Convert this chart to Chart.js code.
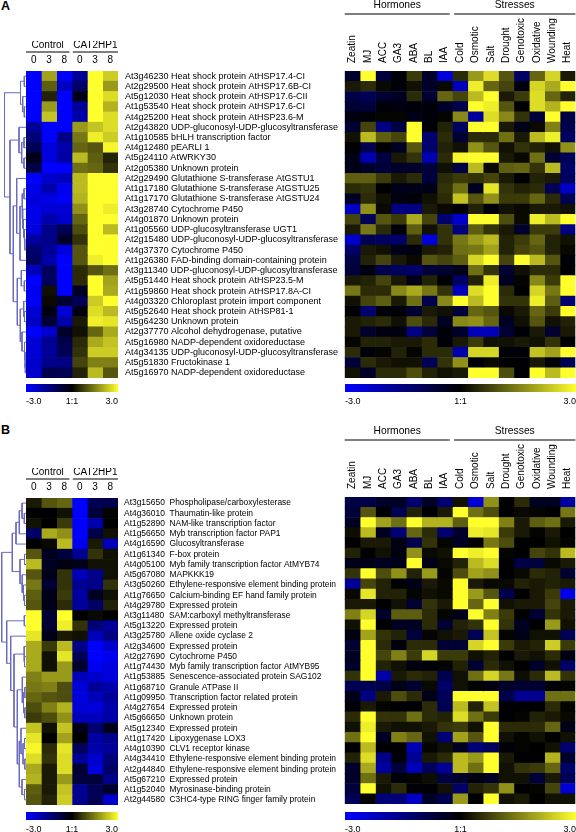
<!DOCTYPE html>
<html>
<head>
<meta charset="utf-8">
<script src="https://cdn.jsdelivr.net/npm/chart.js@4/dist/chart.umd.min.js"></script>
<style>
  html, body { margin: 0; padding: 0; background: #fff; }
  #page { position: relative; width: 576px; height: 832px; overflow: hidden; }
  canvas { position: absolute; }
  .letter { position: absolute; left: 1px; font: bold 12.5px "Liberation Sans", Arial, sans-serif; color: #000; }
</style>
</head>
<body>
<div id="page">
  <div class="letter" style="top:-1px">A</div>
  <div class="letter" style="top:423px">B</div>
</div>
<script>
// column headings
const timePoints = ['0', '3', '8', '0', '3', '8'];
const sampleGroups = ['Control', 'CAT2HP1'];
const atlasColumns = ['Zeatin', 'MJ', 'ACC', 'GA3', 'ABA', 'BL', 'IAA', 'Cold', 'Osmotic', 'Salt', 'Drought', 'Genotoxic', 'Oxidative', 'Wounding', 'Heat'];
const atlasGroups = ['Hormones', 'Stresses'];
const scaleTicks = [-3, 0, 3];
const scaleTickLabels = ['-3.0', '1:1', '3.0'];

// panel A genes
const genesA = [
  'At3g46230 Heat shock protein AtHSP17.4-CI',
  'At2g29500 Heat shock protein AtHSP17.6B-CI',
  'At5g12030 Heat shock protein AtHSP17.6-CII',
  'At1g53540 Heat shock protein AtHSP17.6-CI',
  'At4g25200 Heat shock protein AtHSP23.6-M',
  'At2g43820 UDP-gluconosyl-UDP-glucosyltransferase',
  'At1g10585 bHLH transcription factor',
  'At4g12480 pEARLI 1',
  'At5g24110 AtWRKY30',
  'At2g05380 Unknown protein',
  'At2g29490 Glutathione S-transferase AtGSTU1',
  'At1g17180 Glutathione S-transferase AtGSTU25',
  'At1g17170 Glutathione S-transferase AtGSTU24',
  'At3g28740 Cytochrome P450',
  'At4g01870 Unknown protein',
  'At1g05560 UDP-glucosyltransferase UGT1',
  'At2g15480 UDP-gluconosyl-UDP-glucosyltransferase',
  'At4g37370 Cytochrome P450',
  'At1g26380 FAD-binding domain-containing protein',
  'At3g11340 UDP-gluconosyl-UDP-glucosyltransferase',
  'At5g51440 Heat shock protein AtHSP23.5-M',
  'At1g59860 Heat shock protein AtHSP17.8A-CI',
  'At4g03320 Chloroplast protein import component',
  'At5g52640 Heat shock protein AtHSP81-1',
  'At5g64230 Unknown protein',
  'At2g37770 Alcohol dehydrogenase, putative',
  'At5g16980 NADP-dependent oxidoreductase',
  'At4g34135 UDP-gluconosyl-UDP-glucosyltransferase',
  'At5g51830 Fructokinase 1',
  'At5g16970 NADP-dependent oxidoreductase'
];

// panel B genes
const genesB = [
  'At3g15650  Phospholipase/carboxylesterase',
  'At4g36010  Thaumatin-like protein',
  'At1g52890  NAM-like transcription factor',
  'At1g56650  Myb transcription factor PAP1',
  'At4g16590  Glucosyltransferase',
  'At1g61340  F-box protein',
  'At4g05100  Myb family transcription factor AtMYB74',
  'At5g67080  MAPKKK19',
  'At3g50260  Ethylene-responsive element binding protein',
  'At1g76650  Calcium-binding EF hand family protein',
  'At4g29780  Expressed protein',
  'At3g11480  SAM:carboxyl methyltransferase',
  'At5g13220  Expressed protein',
  'At3g25780  Allene oxide cyclase 2',
  'At2g34600  Expressed protein',
  'At2g27690  Cytochrome P450',
  'At1g74430  Myb family transcription factor AtMYB95',
  'At1g53885  Senescence-associated protein SAG102',
  'At1g68710  Granule ATPase II',
  'At1g09950  Transcription factor related protein',
  'At4g27654  Expressed protein',
  'At5g66650  Unknown protein',
  'At5g12340  Expressed protein',
  'At1g17420  Lipoxygenase LOX3',
  'At4g10390  CLV1 receptor kinase',
  'At4g34410  Ethylene-responsive element binding protein',
  'At2g44840  Ethylene-responsive element binding protein',
  'At5g67210  Expressed protein',
  'At1g52040  Myrosinase-binding protein',
  'At2g44580  C3HC4-type RING finger family protein'
];

const timeCourseA = [
  [-3, 1.9, -3, -1.8, 3, 2.4],
  [-3, 1.1, -2.3, -1.2, 3, 1.8],
  [-3, 0.4, -3, -0.3, 3, 2.6],
  [-3, 1.8, -3, -1.8, 3, 2.1],
  [-3, 2.3, -3, -2, 3, 2.6],
  [-1.8, -3, -3, 1.8, 2.3, 2.6],
  [-1.4, -3, -1.6, 1.4, 2.8, 2.4],
  [-1, -2.6, -2, 1.2, 1, 2.9],
  [-0.3, -2.6, -1.9, 2.2, 1.1, 0.4],
  [-0.8, -3, -3, 1.3, 1.2, 0.6],
  [-3, -2.4, -2.2, 2.2, 3, 3],
  [-2.7, -2, -2.8, 2.2, 3, 3],
  [-2.6, -2.7, -2.9, 2.1, 3, 3],
  [-2.7, -2.5, -2.5, 1.7, 3, 2.8],
  [-2.7, -2, -2.4, 1.2, 3, 3],
  [-2.6, -1.6, -1, 0.9, 3, 2.2],
  [-1.9, -1.6, -0.5, 0.6, 3, 3],
  [-1.3, -1.8, -2.6, 1, 3, 3],
  [-1.1, -2, -3, 1, 2.8, 3],
  [-2.2, -1.1, -3, 0.5, 1, 1.3],
  [-3, -1.1, -3, 0.5, 3, 1.9],
  [-2.8, 0.2, -3, -0.4, 3, 2],
  [-2.9, 0.1, -0.6, -1, 2.4, 3],
  [-2.5, -0.2, -2.5, -0.2, 2.6, 2.2],
  [-2.3, -0.6, -2, 0.3, 2.8, 2.7],
  [-3, -2.4, -0.5, 0.2, 1.2, 2],
  [-2.5, -1.7, -0.9, 0.5, 2, 2.3],
  [-2.5, -1.8, -1, 0.6, 2.4, 2.4],
  [-2.4, -1.6, -1.5, 0.8, 1.5, 1.5],
  [-2.4, -0.9, -1, 0.4, 2.2, 1]
];

const atlasA = [
  [-0.5, 3, -0.7, -0.1, 0.7, -0.5, -2.6, 0.5, 1.8, 2.6, 1, -1.2, 1.2, 2.5, 0.3],
  [0.3, 0.5, 0.1, -0.1, 0.2, -0.5, 0.1, -2.2, 2.8, 1.2, 0.8, -0.2, 2.5, 2, 3],
  [-0.8, -1, -0.6, -0.4, 0.5, -0.6, 1.2, 0.8, 2.2, 3, 0.3, 0.7, 2.6, 1.2, 0.4],
  [-0.6, -0.7, -0.1, -0.2, -0.1, -0.1, -0.5, -0.9, 3, 2.8, 1, 0, 2.6, 2.1, 3],
  [-0.2, -0.1, 0.05, 0.05, -0.3, -0.1, 0.05, 1.6, -1.8, 2.6, 1.6, 0.6, -0.7, 3, -0.8],
  [-0.6, 0.8, -1.5, -0.8, 3, -0.1, 0.4, -1.1, 3, 3, 0.3, -0.3, 0.1, 1.5, -0.9],
  [0.2, 2.2, 1.1, 0.8, 3, -1.3, 0.5, -0.6, 0.5, 0.5, 1.3, 0.3, 2.2, 2.8, -1.1],
  [0, -0.9, 0, -0.4, 1, -1.3, 0.4, 0.2, 1.7, 1, 0.2, 0.6, 0.4, 0.2, 1.7],
  [-0.3, -2.1, -0.8, 0.3, 0.6, -2.1, 0.5, 2.9, 3, 3, 0.3, 0.1, 1.3, -0.6, -1],
  [-0.3, -0.5, -0.7, -0.5, -0.5, -0.7, 0.2, -0.8, 2.2, 0.1, 1.1, 1.2, 0.6, 2.2, -1.2],
  [1.1, 1.1, 0.7, 0.3, 0.5, -0.7, 0.5, 0.7, 0.6, 0.8, 0.3, -0.05, 0.4, 0.3, -1.1],
  [0.5, 0.6, 0, -0.3, -0.3, -0.3, 0.6, 1.3, -0.4, 2.7, 0.6, 0.4, 0.5, -1, -2.3],
  [-0.4, 0.5, 0.2, -0.2, -0.1, 0.2, 0.5, 2.3, 1, 1.7, 0.7, 0.7, 1.2, 0.5, -1],
  [-2.3, 1.7, 0.1, -1.5, -1.5, 0.3, 0.1, -0.1, 0.4, -0.1, 0.2, 0.1, 0.3, 0.3, 0.2],
  [0.8, -1, 1, 0.7, 2, 0.8, -1.3, -2.4, 3, 3, 0.9, 0.1, 2.8, 2.2, 3],
  [0.3, 1.4, 0.5, -0.1, 1.1, 0.2, 0.6, -1.5, 1.1, 0.6, 0.3, -0.5, 0.7, 0.7, -1.5],
  [-2.4, -1, -1.1, -1.2, 0.5, -2.6, 0.6, 1.4, 1.8, 2.2, 0.4, 0.7, 1.2, 0.4, 0.2],
  [-1.2, 0.3, 0.2, -0.3, -0.2, 0.3, 0.4, 1.3, 1.4, 1.9, 0.4, 0.8, 1, 0.4, 0.1],
  [-0.8, 0.4, 0.8, 0.3, 0.1, 1, 0.8, 1.1, 2.5, 3, 0.8, 3, 2.2, 1, -0.1],
  [-0.7, -0.2, -0.9, -1.1, -1.2, -0.7, -0.6, -0.3, 1.3, 0.6, -0.6, 0.2, 0.5, 0.5, 0],
  [0.3, 0.4, 0.8, 0.3, -0.3, 0.4, 0, -1.2, 0.4, 2.8, -0.4, 0.05, 1.6, 0.7, 3],
  [1.4, 0.5, 0.5, 1.6, 2, 1.4, 0.6, -2.2, 2.6, 3, 0.5, 0, 2.5, 1.4, 3],
  [0.2, 0.8, 1.1, 0.3, 1.3, -0.9, 1.6, 3, 2.2, 3, 0.6, 0.6, 2.8, 1.1, -1.3],
  [0, -1.3, -0.1, -0.1, -0.6, 0.3, 0.2, -0.7, 1.2, 1, 0.1, 0.3, 1.2, 0.7, 3],
  [0.3, 0.4, 0.5, 0.2, 0.9, 0.5, -0.4, 1.6, 1.7, 1.2, -0.4, 0.2, 1, 0.2, 0.4],
  [0.3, -0.5, -0.2, -0.2, -1.5, -0.7, -0.1, -0.5, -2.2, -2.2, -0.6, -0.1, 0.3, -0.6, 0.3],
  [0.05, 0.4, 0.4, 0.3, 0.3, 0.5, -0.1, 0.3, 0.7, 0.2, 0.2, 0.3, 0.2, 0.6, -0.05],
  [0.5, -0.1, 0.05, 0.4, 0.05, 0.5, 0.5, -2, 2.5, 2.5, -0.1, -0.1, 2.3, 1.9, 3],
  [-0.7, 0.5, 0.3, 0.2, 0.2, -1, 0.6, 1.7, -0.1, 0.1, 0, -0.05, 0.3, -0.1, -1],
  [0.2, -0.5, 0.5, 0.5, 0.9, 0.4, 0.2, 0.3, 3, 3, 0.9, 0, 3, 2.2, 3]
];

const timeCourseB = [
  [0.3, 1, 1.2, -3, -1, -0.9],
  [0, 0, 0.2, -3, -0.7, 0.05],
  [0.2, 0, 0.7, -3, -2, 0],
  [-1.2, 2, 1.7, -3, -0.8, 0.2],
  [0, 0.1, 2.2, -2.8, 0.3, -2.2],
  [1, -0.4, -0.7, -1.7, 0.6, 0.2],
  [2.2, -0.4, -0.2, -0.3, 0.2, 0.2],
  [1, -0.3, 0.6, -2.2, -1.6, 0.2],
  [1.4, -0.6, 0.6, -1.7, -1.6, 0.6],
  [1.1, -0.3, 0.7, -1.9, -0.4, 0.2],
  [1, -0.3, 0.5, -1.8, -1.2, 0.4],
  [3, -0.6, 3, 0, 0.1, 0],
  [3, -0.6, 2.8, 0.6, -1.4, -1.8],
  [2.7, -0.3, 0.3, 0.2, -2.2, -1.5],
  [2, 0.7, 2.2, -1.6, -3, -2.4],
  [2, 0.2, 2.7, -1, -3, -2.8],
  [2, 0.2, 1.8, -0.5, -2.8, -2.6],
  [1.5, 1.8, 1.8, -2.2, -2.4, -2.6],
  [1.4, 1.5, 0.9, -2.6, -1.8, -2],
  [1.2, 1, 0.9, -2.6, -2.2, -1.8],
  [0.9, 1.5, 2.1, -2.5, -2.6, -2],
  [0.7, 0.9, 1.7, -2.2, -2.2, -2],
  [2.3, 0.2, 2.3, -0.3, -1.3, -0.3],
  [2.7, 0, 1.9, 0, -1.9, -1.6],
  [2.9, 0.5, 2.7, -1.1, -2, -1.8],
  [2.6, 0.6, 2.6, -1.8, -2.4, -1.4],
  [2, 0.3, 2.6, -0.6, -2.6, -1.2],
  [2.1, 0.3, 1.8, -0.7, -0.7, -1.6],
  [1.1, 0.3, 2.3, -1.7, -1, -0.5],
  [1, 0.4, 2.4, -1.7, -1, -2.4]
];

const atlasB = [
  [-0.8, -0.8, -0.5, -0.4, -1.3, -0.4, -1.3, 0.2, -2.5, 1.7, 0, 0.5, -0.4, -0.4, -1.9],
  [-0.7, 1, 0, -1, 0.4, 0, 0.3, 3, 1.3, 0.9, 0, 0.1, 0.05, 0, 1.4],
  [-0.4, 3, 1.9, 1.3, 3, 2.1, 2.1, 1.1, 3, 3, 1.5, 0.3, 1.1, 1.3, 0.3],
  [0.15, 2.2, -0.4, -1.4, 1.2, 0.5, -1.3, -0.5, 2.8, 2.7, 0.7, 0.3, 0.05, 0.3, 0],
  [0, 0.3, 0.3, -0.2, -0.9, 0.6, 0.05, -0.4, 0, 1.4, 0.9, 0, 0, 0.2, 0.05],
  [0.4, 0, 0.2, -0.2, 1.7, 0.1, 0.2, 3, 2.8, 3, 0.05, 0, 0.8, 0.6, 2.2],
  [-0.3, -0.3, -0.4, -0.3, 3, -0.3, 0.1, 0.4, 2.2, 2.6, 0, -0.8, -0.7, 0.1, 0.3],
  [0.6, 3, 0.9, 1.7, 0.4, 1.8, 0.05, 0.9, 1.9, 1.7, 0, 0.1, 0.5, 0.4, -0.6],
  [-1.8, 0.8, 0.4, 0, -0.3, 0.3, 0.1, 3, 0.3, 0.1, 0.1, 0.4, 0.3, 0.4, 0.3],
  [0.1, 2.7, 0.4, 0.4, 0.05, 0.2, 0.1, 3, 1.8, 1, -0.9, 0, 0.3, 0.7, -2.8],
  [0.3, 0.3, 0, 0.2, -0.6, 0.6, 0.3, 3, 1.2, 3, 0.2, 0.3, 0.3, 0.8, 0.3],
  [1.5, 2.5, -0.5, 1.1, 1.1, 0.5, 0.05, -0.3, 3, 1.5, 0.7, 0, -0.6, 0.6, 0.3],
  [0.2, 3, 0, -0.4, -0.4, 0.5, -0.6, 0.4, 0.6, 3, 0.6, -0.4, 0, 1.8, 0.2],
  [-0.2, 1.9, 0.6, 0.4, -0.7, 0.05, 0.2, 0.3, -1, 2.3, 0.05, -0.3, 0.2, 0.2, -1],
  [-0.6, 3, 0.5, -0.2, 0.5, 0.5, -0.6, -0.6, 2.5, 3, 0.7, 0.3, 0.4, 2.4, 0.7],
  [-0.4, 3, 0.8, 1.5, 0.7, 2.5, 0.7, 0.7, 0.2, 0.4, 0, 0.3, 0.2, 0.5, -0.2],
  [-0.5, 3, 0.4, 0.2, -0.2, -0.1, 0.05, 0.4, -0.6, 0.5, 0.2, 0, -0.5, 0.2, -1.2],
  [0.6, 3, -2, 0.3, 0.5, 0.4, -0.9, 0.2, 1.3, 2.5, 1.4, 0.15, 0.5, 2.2, 0.6],
  [-1, -1, -0.8, -0.3, -0.6, 0.1, -1.2, 0.2, 0, -0.2, -0.5, -0.6, -0.6, -0.1, 0.05],
  [-0.3, -1.5, 0.3, 0.9, 0.5, -0.3, -1, 3, 3, 3, -0.9, -1.7, -1.7, 1.3, 1.3],
  [-0.1, 0.3, 0.05, -0.05, -0.05, 0.5, -1, 2.2, 0.4, 2.3, -0.05, -0.05, -0.05, 0.5, 0.05],
  [0.5, 3, 0.6, 0.6, 1.3, 0.5, 0.4, 2.6, 1.3, 0.7, -0.05, 0.05, 0.4, 0.3, 0.1],
  [0.2, 2.8, 0.3, 0.2, 0.2, 0.3, 0.6, 0.7, 0.2, 3, 0.5, 0.5, 0.5, 1.2, -0.3],
  [1.3, 3, -0.4, 1.5, 1.2, 0.2, -1.4, 1.9, 1, 3, 0.2, 0.05, 0.2, 0, 0.2],
  [-0.05, 2.2, -0.05, -0.05, -2.1, 0.05, 0.2, -0.4, -1.4, -1.1, -0.1, 0.05, 0, 0.2, -1.3],
  [0.4, 2.6, -1.6, -0.1, -1.7, 0.3, 0.5, 2.2, 1.8, 3, 0.3, -0.05, -0.05, 2.1, -0.5],
  [-0.5, 2, -1.9, -0.7, -2.2, -1.1, -1.8, 2.2, 1.3, 3, 0.2, 0.6, 0.7, 1.2, -1.2],
  [-0.5, 1.3, 0.3, -0.1, 0.05, 0.15, -0.8, -0.5, -0.2, -0.4, 0.2, 0.2, -0.7, 0.3, -1],
  [-0.7, 3, 0.2, 0.5, -0.05, -0.05, 0.2, -1.2, 0.4, 0.6, 1.7, 0, 0.05, 0.8, -2.5],
  [-1, 0.05, -1.4, -1.4, -2.3, -0.5, -0.9, 1.8, 0, 3, 0.2, 0.3, 0, 0.2, 0.2]
];

// cluster trees: [merge distance, child, child], a number is a row index
const treeA = [21.5,
  [5.5, [1.7, 0, 1], [3.3, 2, [1.7, 3, 4]]],
  [16,
    [7, 5, [4.3, [2, 6, 7], [2, 8, 9]]],
    [12.7,
      [9.3, 10, [6, [4, [2, 11, 12], [3.3, 13, [2.5, 14, [1.8, 15, [1.2, 16, 17]]]]], 18]],
      [8.7,
        [4.7, 19, [1.7, 20, 21]],
        [5.7, [2.3, 22, [1.5, 23, 24]], [4, 25, [1.5, 26, [1, 27, [0.7, 28, 29]]]]]
      ]
    ]
  ]
];
const treeB = [24.3,
  [13.7,
    [10, [6.7, [4, 0, [1.7, 1, 2]], 3], 4],
    [6, [1.5, 5, 6], [3.8, 7, [2.5, 8, [1.5, 9, 10]]]]
  ],
  [19.3,
    [1.7, 11, 12],
    [15.3, 13,
      [12,
        [2, 14, [1.5, 15, 16]],
        [8.7,
          [3.7, 17, [2.5, [1.2, 18, 19], [1.2, 20, 21]]],
          [6.7, [5, 22, [3, [1.5, 23, 24], [1.2, 25, 26]]], [4, 27, [1.5, 28, 29]]]
        ]
      ]
    ]
  ]
];

Chart.defaults.font.family = '"Liberation Sans", Arial, sans-serif';
Chart.defaults.color = '#000';
Chart.defaults.animation = false;
Chart.defaults.responsive = false;
Chart.defaults.plugins.legend.display = false;
Chart.defaults.plugins.tooltip.enabled = false;

const page = document.getElementById('page');

function addCanvas(left, top, width, height) {
  const c = document.createElement('canvas');
  c.width = width;
  c.height = height;
  c.style.left = left + 'px';
  c.style.top = top + 'px';
  c.style.width = width + 'px';
  c.style.height = height + 'px';
  page.appendChild(c);
  return c.getContext('2d');
}

function cellColor(v) {
  const t = Math.min(Math.abs(v) / 3, 1);
  if (v < 0) return `rgb(0,0,${Math.round(255 * t)})`;
  return `rgb(${Math.round(255 * t)},${Math.round(255 * t)},${Math.round(45 * t)})`;
}

// underlined group headings above the columns
const groupHeader = {
  id: 'groupHeader',
  afterDraw(chart, args, opts) {
    const { ctx, chartArea, scales } = chart;
    opts.labels.forEach((label, i) => {
      const x0 = scales.x.getPixelForValue(opts.spans[i][0]);
      const x1 = scales.x.getPixelForValue(opts.spans[i][1]);
      const y = chartArea.top - opts.lineGap;
      ctx.save();
      ctx.strokeStyle = '#555';
      ctx.lineWidth = 1.3;
      ctx.beginPath();
      ctx.moveTo(x0, y);
      ctx.lineTo(x1, y);
      ctx.stroke();
      ctx.fillStyle = '#000';
      ctx.font = opts.font + 'px ' + Chart.defaults.font.family;
      ctx.textAlign = 'center';
      ctx.textBaseline = 'middle';
      ctx.fillText(label, (x0 + x1) / 2, y - opts.textGap);
      ctx.restore();
    });
  }
};

function heatMap(o) {
  const headH = o.headH;
  const ctx = addCanvas(o.left, o.top - headH, o.width, headH + o.plotH);
  const rows = o.rows;
  const columns = o.columns;
  new Chart(ctx, {
    type: 'bar',
    data: {
      labels: o.genes,
      // one floating bar per cell, one dataset per column
      datasets: columns.map((name, c) => ({
        label: name,
        data: rows.map(() => [c, c + 1]),
        backgroundColor: rows.map(r => cellColor(r[c])),
        borderWidth: 0,
        grouped: false,
        barPercentage: 1,
        categoryPercentage: 1
      }))
    },
    options: {
      indexAxis: 'y',
      layout: { padding: { left: o.padLeft || 0, right: o.padRight || 0, top: 0, bottom: 0 } },
      scales: {
        x: {
          type: 'linear',
          position: 'top',
          min: 0,
          max: columns.length,
          grid: { display: false, drawTicks: false },
          border: { display: false },
          afterBuildTicks: s => { s.ticks = columns.map((n, i) => ({ value: i + 0.5 })); },
          afterFit: s => { s.height = headH; s.paddingLeft = 0; s.paddingRight = 0; },
          ticks: {
            autoSkip: false,
            padding: o.tickPad,
            labelOffset: o.labelOffset || 0,
            minRotation: o.rotation,
            maxRotation: o.rotation,
            font: { size: 10 },
            callback: (v, i) => columns[i]
          }
        },
        y: {
          display: o.showGenes,
          position: 'right',
          grid: { display: false, drawTicks: false },
          border: { display: false },
          afterFit: s => {
            if (o.showGenes) s.width = o.geneW;
            s.paddingTop = 0;
            s.paddingBottom = 0;
          },
          ticks: { autoSkip: false, padding: o.genePad, font: { size: o.geneFont } }
        }
      },
      plugins: { groupHeader: o.header }
    },
    plugins: [groupHeader]
  });
}

function treeSegments(node, points) {
  if (typeof node === 'number') return { h: 0, y: node + 0.5 };
  const a = treeSegments(node[1], points);
  const b = treeSegments(node[2], points);
  points.push({ x: a.h, y: a.y }, { x: node[0], y: a.y }, { x: node[0], y: b.y }, { x: b.h, y: b.y }, { x: NaN, y: NaN });
  return { h: node[0], y: (a.y + b.y) / 2 };
}

function dendrogram(tree, top, plotH) {
  const ctx = addCanvas(0, top, 26, plotH);
  const points = [];
  treeSegments(tree, points);
  new Chart(ctx, {
    type: 'scatter',
    data: {
      datasets: [{
        data: points,
        showLine: true,
        spanGaps: false,
        pointRadius: 0,
        borderColor: '#6a6abf',
        borderWidth: 1
      }]
    },
    options: {
      layout: { padding: 0 },
      scales: {
        x: { display: false, min: 0, max: 26, reverse: true },
        y: { display: false, min: 0, max: 30, reverse: true }
      }
    }
  });
}

function colorBar(left, top, width) {
  const ctx = addCanvas(left, top, width, 20);
  new Chart(ctx, {
    type: 'bar',
    data: {
      labels: ['scale'],
      datasets: [{
        data: [[scaleTicks[0], scaleTicks[2]]],
        borderWidth: 0,
        barPercentage: 1,
        categoryPercentage: 1,
        backgroundColor: c => {
          const a = c.chart.chartArea;
          if (!a) return '#000';
          const g = c.chart.ctx.createLinearGradient(a.left, 0, a.right, 0);
          g.addColorStop(0, cellColor(-3));
          g.addColorStop(0.5, cellColor(0));
          g.addColorStop(1, cellColor(3));
          return g;
        }
      }]
    },
    options: {
      indexAxis: 'y',
      layout: { padding: 0 },
      scales: {
        y: { display: false },
        x: {
          min: scaleTicks[0],
          max: scaleTicks[2],
          grid: { display: false, drawTicks: false },
          border: { display: false },
          afterBuildTicks: s => { s.ticks = scaleTicks.map(v => ({ value: v })); },
          afterFit: s => { s.height = 12; s.paddingLeft = 0; s.paddingRight = 0; },
          ticks: {
            align: 'inner',
            autoSkip: false,
            maxRotation: 0,
            padding: 4,
            font: { size: 9 },
            callback: (v, i) => scaleTickLabels[i]
          }
        }
      }
    }
  });
}

function panel(genes, course, atlas, tree, topLeft, topRight, barTop, geneFont, genePad) {
  const plotH = 307;
  dendrogram(tree, topLeft, plotH);
  heatMap({
    left: 26, top: topLeft, width: 320, plotH, headH: 30,
    rows: course, columns: timePoints, genes,
    showGenes: true, geneW: 228, genePad, geneFont,
    rotation: 0, tickPad: 5,
    header: { labels: sampleGroups, spans: [[0, 2.83], [3.05, 6]], lineGap: 19, textGap: 7, font: 10 }
  });
  heatMap({
    left: 344, top: topRight, width: 232, plotH, headH: 71,
    padLeft: 0.7, padRight: 0.6,
    rows: atlas, columns: atlasColumns, genes,
    showGenes: false,
    rotation: 90, tickPad: 8, labelOffset: 12,
    header: { labels: atlasGroups, spans: [[0, 6.83], [7.11, 15]], lineGap: 57, textGap: 9, font: 10.3 }
  });
  colorBar(26, barTop, 92);
  colorBar(345, barTop, 231);
}

panel(genesA, timeCourseA, atlasA, treeA, 71, 71, 384, 9, 7);
panel(genesB, timeCourseB, atlasB, treeB, 498, 497, 812, 8.45, 6);
</script>
</body>
</html>
